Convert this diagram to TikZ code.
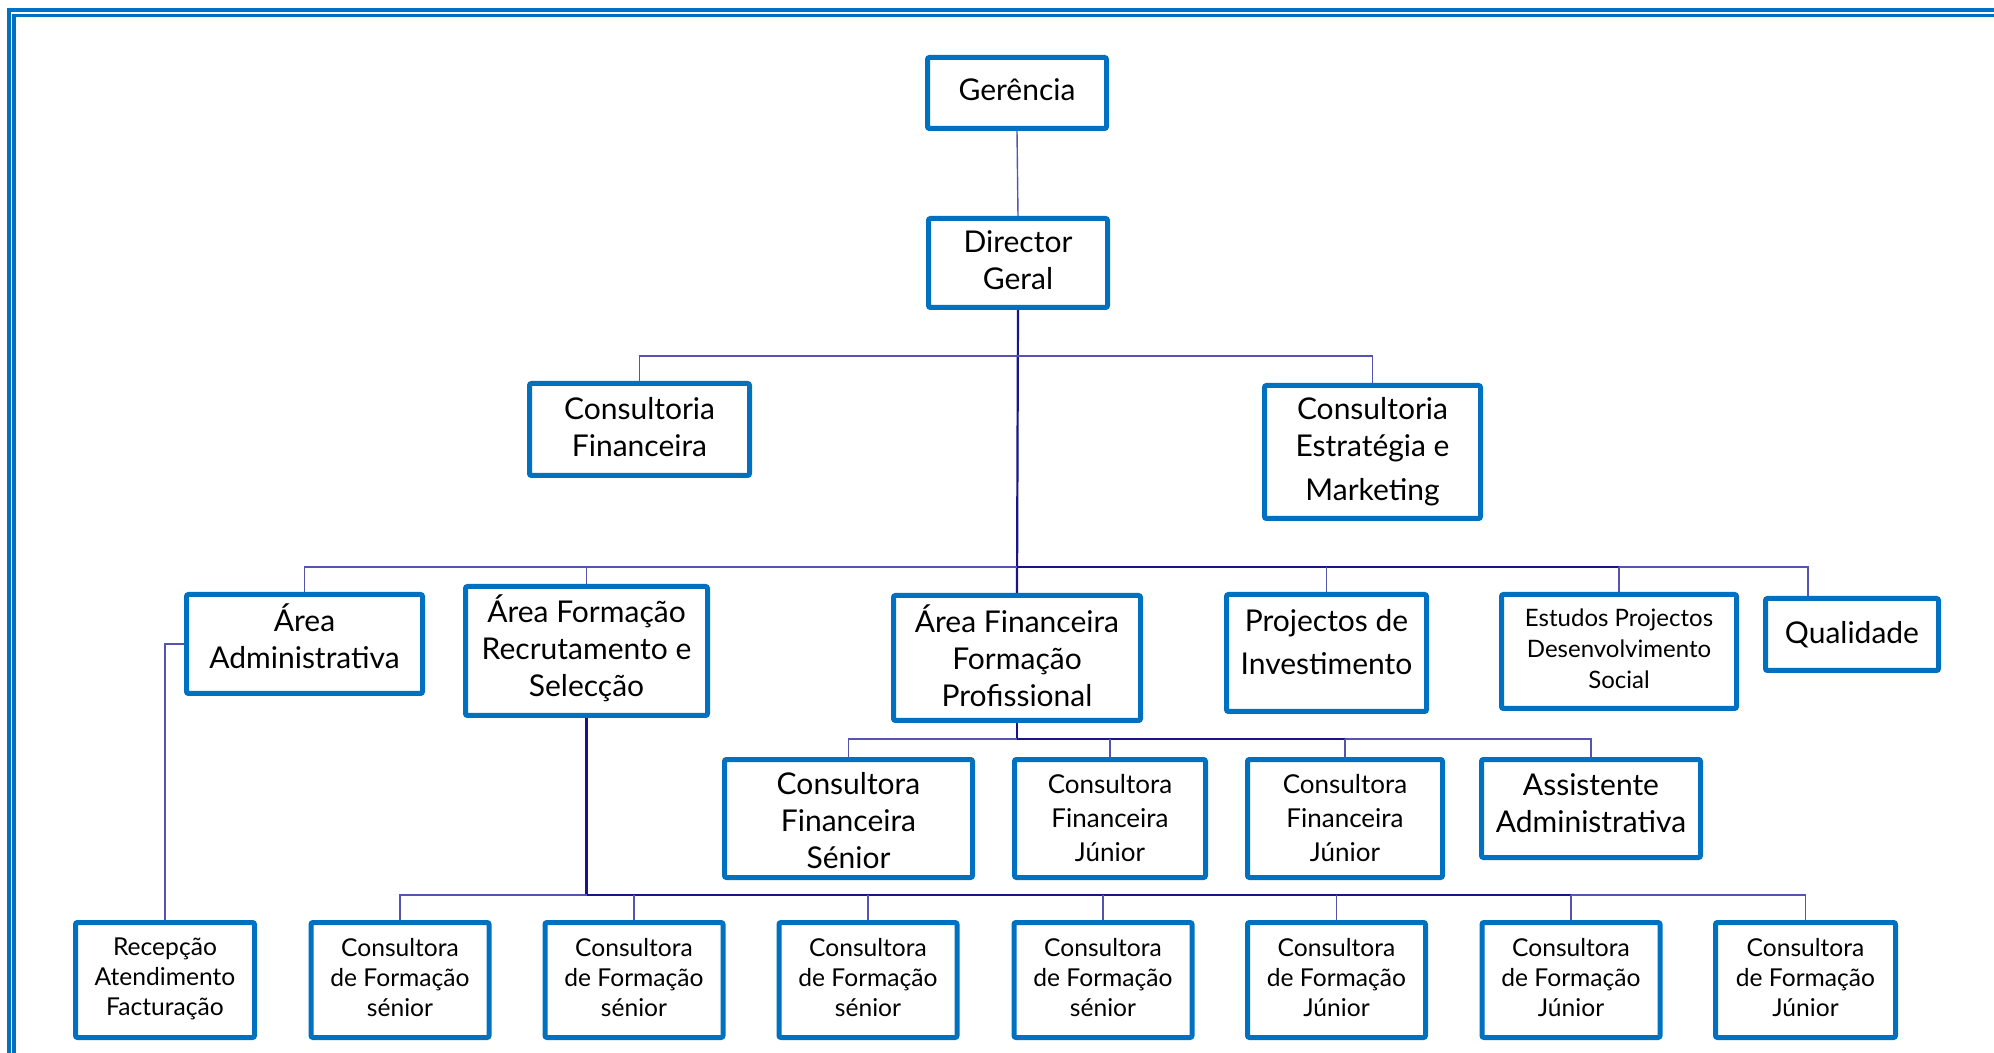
\documentclass[tikz,border=0pt]{standalone}
\usepackage{fontspec}
\setmainfont{Lato}
\usetikzlibrary{backgrounds}
\definecolor{boxblue}{RGB}{0,112,192}
\definecolor{linkdark}{RGB}{25,20,135}
\definecolor{linklight}{RGB}{85,85,175}
\newcommand\fntL{\fontsize{15}{18.5}\selectfont}
\newcommand\fntJ{\fontsize{13}{17}\selectfont}
\newcommand\fntE{\fontsize{12}{15.5}\selectfont}
\newcommand\fntS{\fontsize{12.3}{15}\selectfont}

\begin{document}
\begin{tikzpicture}[x=0.5pt,y=-0.5pt,
  box/.style={draw=boxblue, line width=2.5pt, rounded corners=1pt, fill=white,
              align=center, inner sep=0pt, text=black},
  boxsize/.style 2 args={minimum width=#1*0.5pt, minimum height=#2*0.5pt},
  large/.style={font=\fntL},
  junior/.style={font=\fntJ},
  studies/.style={font=\fntE},
  small/.style={font=\fntS},
  trunk/.style={draw=linkdark, line width=1.1pt},
  branch/.style={draw=linklight, line width=0.7pt},
  frame/.style={draw=boxblue, line width=1.7pt}]

\useasboundingbox (0,0) rectangle (1994,1053);

% double frame (open to the right and bottom)
\draw[frame] (1994,10) -- (9,10) -- (9,1053);
\draw[frame] (1994,15.3) -- (14,15.3) -- (14,1053);

% top of the hierarchy
\node[box,large,boxsize={179}{71},text depth=3pt] (ger) at (1017,93) {Gerência};
\node[box,large,boxsize={179}{89},text depth=2.5pt] (dir) at (1018,263) {Director\\Geral};

% consultancy level
\node[box,large,boxsize={220}{92},text depth=2.5pt] (cfin) at (639.5,429.5) {Consultoria\\Financeira};
\node[box,large,boxsize={216}{133}] (cest) at (1372.5,452) {Consultoria\\Estratégia e\\[3.5pt]Marketing};

% areas
\node[box,large,boxsize={236}{99},text depth=8pt] (aadm) at (304.5,644) {Área\\Administrativa};
\node[box,large,boxsize={242}{129},text depth=5.8pt] (aform) at (586.5,651) {Área Formação\\Recrutamento e\\Selecção};
\node[box,large,boxsize={247}{125},text depth=2.5pt] (afin) at (1017,658) {Área Financeira\\Formação\\Profissional};
\node[box,large,boxsize={200}{117},text depth=11pt] (proj) at (1326.5,653) {Projectos de\\[3pt]Investimento};
\node[box,studies,boxsize={235}{114},text depth=2.5pt] (estud) at (1619,651.5) {Estudos Projectos\\Desenvolvimento\\Social};
\node[box,large,boxsize={173}{72},text depth=2.5pt] (qual) at (1852,634.5) {Qualidade};

% financial training staff
\node[box,large,boxsize={248}{118},text height=50.5pt] (cfs) at (848.5,818.5) {Consultora\\Financeira\\Sénior};
\node[box,junior,boxsize={191}{118}] (cfja) at (1110,818.5) {Consultora\\Financeira\\Júnior};
\node[box,junior,boxsize={195}{118}] (cfjb) at (1345,818.5) {Consultora\\Financeira\\Júnior};
\node[box,large,boxsize={219}{98},text depth=5pt] (asst) at (1591,808.5) {Assistente\\Administrativa};

% bottom row
\tikzset{bottombox/.style={box,small,boxsize={178}{115},text depth=2.5pt}}
\node[bottombox,boxsize={179}{115},text depth=3.4pt] (rec) at (165,980) {Recepção\\Atendimento\\Facturação};
\node[bottombox] (sa) at (400,980) {Consultora\\de Formação\\sénior};
\node[bottombox] (sb) at (634,980) {Consultora\\de Formação\\sénior};
\node[bottombox] (sc) at (868,980) {Consultora\\de Formação\\sénior};
\node[bottombox] (sd) at (1103,980) {Consultora\\de Formação\\sénior};
\node[bottombox] (ja) at (1336.5,980) {Consultora\\de Formação\\Júnior};
\node[bottombox] (jb) at (1571,980) {Consultora\\de Formação\\Júnior};
\node[bottombox,boxsize={180}{115}] (jc) at (1805.5,980) {Consultora\\de Formação\\Júnior};

% bus levels
\coordinate (busA) at (0,356);
\coordinate (busB) at (0,567);
\coordinate (busC) at (0,739);
\coordinate (busD) at (0,895);
\coordinate (qualc) at ([xshift=-22pt]qual.north);

\begin{scope}[on background layer]
  % main trunk
  \draw[branch] (ger.south) -- (dir.north);
  \draw[trunk] (dir.south) -- (afin.north);

  % consultancy bus
  \draw[branch] (cfin.north) -- (cfin.north |- busA) -- (cest.north |- busA) -- (cest.north);

  % areas bus
  \draw[branch] (aadm.north) -- (aadm.north |- busB) -- (afin.north |- busB);
  \draw[trunk] (afin.north |- busB) -- (estud.north |- busB);
  \draw[branch] (estud.north |- busB) -- (qualc |- busB) -- (qualc);
  \draw[branch] (aform.north) -- (aform.north |- busB);
  \draw[branch] (proj.north) -- (proj.north |- busB);
  \draw[branch] (estud.north) -- (estud.north |- busB);

  % reception under administration
  \draw[branch] (aadm.west) -| (rec.north);

  % financial training bus
  \draw[trunk] (afin.south) -- (afin.south |- busC);
  \draw[branch] (cfs.north) -- (cfs.north |- busC) -- (afin.south |- busC);
  \draw[trunk] (afin.south |- busC) -- (cfjb.north |- busC);
  \draw[branch] (cfjb.north |- busC) -- (asst.north |- busC) -- (asst.north);
  \draw[branch] (cfja.north) -- (cfja.north |- busC);
  \draw[branch] (cfjb.north) -- (cfjb.north |- busC);

  % training consultants bus
  \draw[trunk] (aform.south) -- (aform.south |- busD);
  \draw[branch] (sa.north) -- (sa.north |- busD) -- (aform.south |- busD);
  \draw[trunk] (aform.south |- busD) -- (jb.north |- busD);
  \draw[branch] (jb.north |- busD) -- (jc.north |- busD) -- (jc.north);
  \foreach \n in {sb,sc,sd,ja,jb}
    \draw[branch] (\n.north) -- (\n.north |- busD);
\end{scope}
\end{tikzpicture}
\end{document}
